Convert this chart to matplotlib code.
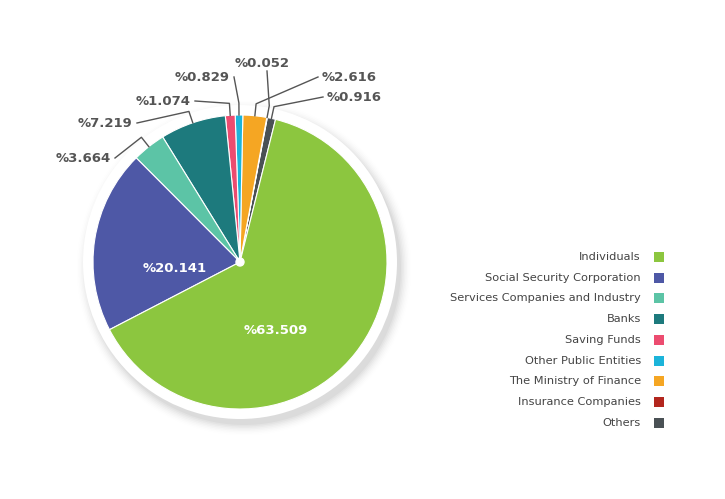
import matplotlib
matplotlib.use("Agg")
import matplotlib.pyplot as plt
import numpy as np
from matplotlib.patches import Circle

categories = ["Others", "Insurance Companies", "The Ministry of Finance", "Other Public Entities",
              "Saving Funds", "Banks", "Services Companies and Industry",
              "Social Security Corporation", "Individuals"]
values = [0.916, 0.052, 2.616, 0.829, 1.074, 7.219, 3.664, 20.141, 63.509]
colors = ["#4A5155", "#B3261E", "#F5A623", "#1CB4DA", "#EC4C70", "#1D7A7D", "#5CC4A6",
          "#4E58A6", "#8CC63F"]
legend_order = ["Individuals", "Social Security Corporation", "Services Companies and Industry",
                "Banks", "Saving Funds", "Other Public Entities", "The Ministry of Finance",
                "Insurance Companies", "Others"]

W, H = 725, 499
fig = plt.figure(figsize=(W/100, H/100), dpi=100)
ax = fig.add_axes([0, 0, 1, 1])

cx, cy, R = 240, 237, 147
for i, a in enumerate(np.linspace(0.12, 0.02, 8)):
    ax.add_patch(Circle((cx + 4, cy - 6), R + 10 + i * 1.5, color="black", alpha=a * 0.25, lw=0, zorder=1))
ax.add_patch(Circle((cx, cy), R + 10, color="white", lw=0, zorder=2))
start = 76
wedges, _ = ax.pie(values, colors=colors, startangle=start, counterclock=True, center=(cx, cy),
                   radius=R, wedgeprops=dict(linewidth=0.8, edgecolor="white"), frame=True)
for w in wedges:
    w.set_zorder(3)
ax.set_xlim(0, W); ax.set_ylim(0, H); ax.axis("off")
ax.add_patch(Circle((cx, cy), 4, color="white", zorder=5))

pos = {"Others": (327, 97, "left"), "Insurance Companies": (262, 63, "center"),
       "The Ministry of Finance": (322, 77, "left"), "Other Public Entities": (202, 77, "center"),
       "Saving Funds": (163, 101, "center"), "Banks": (105, 123, "center"),
       "Services Companies and Industry": (83, 158, "center")}
cum = np.cumsum([0] + values)
tot = sum(values)
for i, c in enumerate(categories):
    if c not in pos:
        continue
    tx, ty, ha = pos[c]
    ty = H - ty
    ang = np.deg2rad(start + (cum[i] + values[i] / 2) / tot * 360)
    ex, ey = cx + R * np.cos(ang), cy + R * np.sin(ang)
    ax.text(tx, ty, f"%{values[i]:.3f}", ha=ha, va="center", fontsize=9.5,
            fontweight="bold", color="#555555", zorder=6)
    ex2, ey2 = cx + (R + 12) * np.cos(ang), cy + (R + 12) * np.sin(ang)
    if c == "Insurance Companies":
        ax.plot([ex, ex2, tx + 5], [ey, ey2, ty - 8], color="#555555", lw=1, zorder=6)
        continue
    sx = tx - 4 if ha == "left" else tx + 32
    ax.plot([ex, ex2, sx], [ey, ey2, ty], color="#555555", lw=1, zorder=6)

ax.text(175, H - 268, "%20.141", ha="center", va="center", fontsize=9.5, fontweight="bold", color="white", zorder=6)
ax.text(276, H - 330, "%63.509", ha="center", va="center", fontsize=9.5, fontweight="bold", color="white", zorder=6)

for k, name in enumerate(legend_order):
    y = H - (257 + k * 20.7)
    col = colors[categories.index(name)]
    ax.text(641, y, name, ha="right", va="center", fontsize=8.2, color="#444444")
    ax.add_patch(plt.Rectangle((654, y - 5), 10, 10, color=col, lw=0))

fig.savefig("out.png", dpi=100, facecolor="white")
